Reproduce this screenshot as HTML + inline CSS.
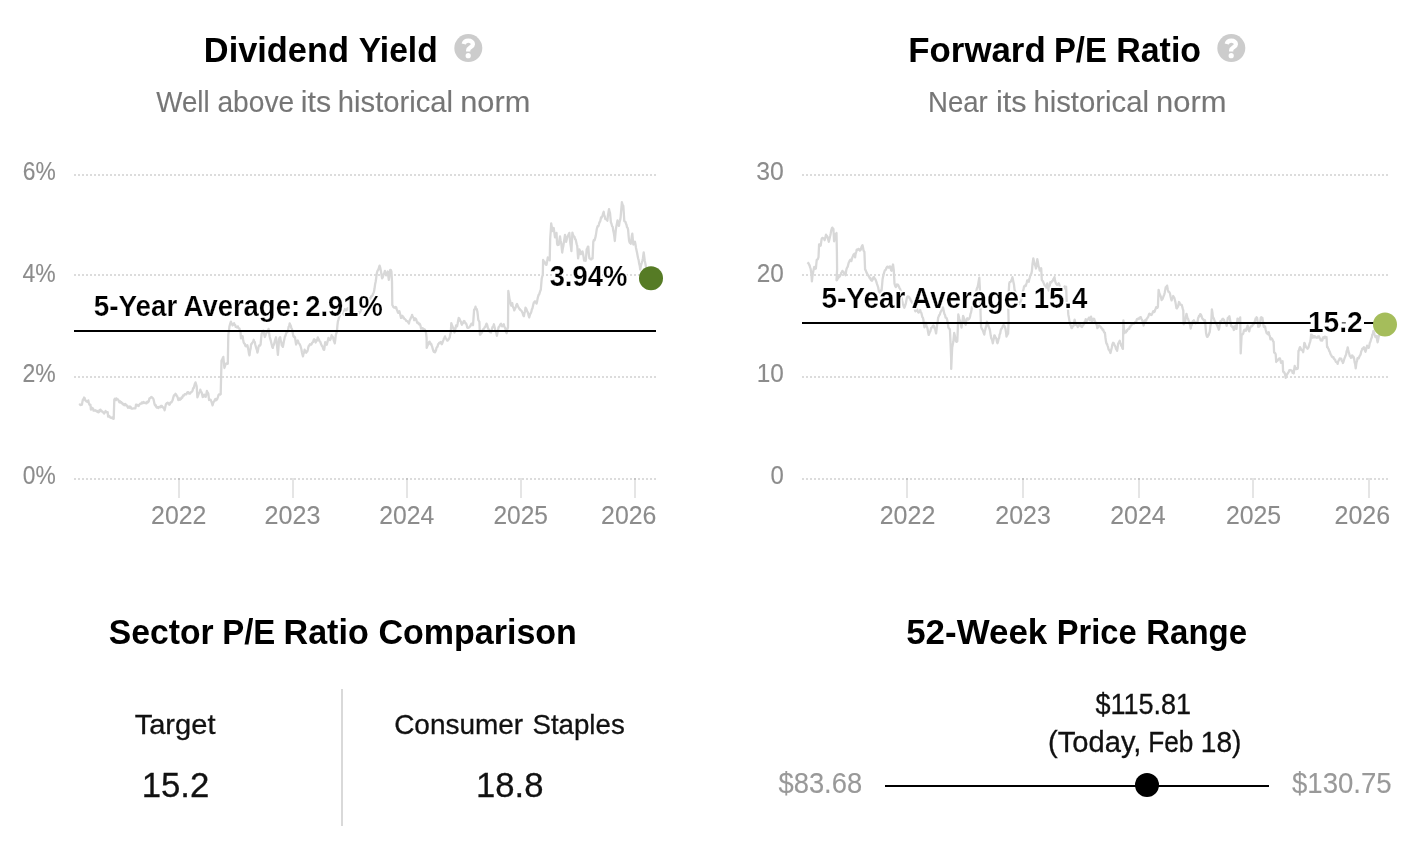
<!DOCTYPE html>
<html>
<head>
<meta charset="utf-8">
<title>Valuation</title>
<style>
html, body { margin: 0; padding: 0; background: #ffffff; }
body { width: 1416px; height: 852px; overflow: hidden; font-family: "Liberation Sans", sans-serif; }
svg { display: block; will-change: transform; }
svg text { font-family: "Liberation Sans", sans-serif; }
</style>
</head>
<body>
<svg width="1416" height="852" viewBox="0 0 1416 852">
<rect width="1416" height="852" fill="#ffffff"/>
<g id="shapes">
<line x1="74" x2="657" y1="175" y2="175" stroke="#dcdcdc" stroke-width="2" stroke-dasharray="2 2"/><line x1="74" x2="657" y1="275" y2="275" stroke="#dcdcdc" stroke-width="2" stroke-dasharray="2 2"/><line x1="74" x2="657" y1="377" y2="377" stroke="#dcdcdc" stroke-width="2" stroke-dasharray="2 2"/><line x1="74" x2="657" y1="479" y2="479" stroke="#dcdcdc" stroke-width="2" stroke-dasharray="2 2"/>
<rect x="178" y="478" width="2" height="20" fill="#000" fill-opacity="0.1"/><rect x="292" y="478" width="2" height="20" fill="#000" fill-opacity="0.1"/><rect x="406" y="478" width="2" height="20" fill="#000" fill-opacity="0.1"/><rect x="520" y="478" width="2" height="20" fill="#000" fill-opacity="0.1"/><rect x="634" y="478" width="2" height="20" fill="#000" fill-opacity="0.1"/>
<path d="M79.3 405.1 L79.8 404.5 L80.3 405.0 L80.9 404.6 L81.4 404.9 L81.9 404.7 L82.5 401.4 L83.0 399.4 L83.5 399.4 L84.1 397.5 L84.6 398.1 L85.2 400.3 L85.7 400.3 L86.2 401.3 L86.8 401.1 L87.3 401.8 L87.8 401.6 L88.3 400.4 L88.8 403.1 L89.4 404.6 L89.9 405.0 L90.4 404.7 L90.9 409.6 L91.5 409.3 L92.0 407.8 L92.5 408.2 L93.1 408.7 L93.6 410.7 L94.1 410.2 L94.7 410.5 L95.2 410.2 L95.7 410.6 L96.3 411.3 L96.8 410.8 L97.3 411.8 L97.9 411.5 L98.4 412.3 L98.9 412.2 L99.5 410.2 L100.0 409.8 L100.5 409.7 L101.0 411.2 L101.6 410.8 L102.1 411.5 L102.6 411.6 L103.2 412.5 L103.7 412.8 L104.2 413.5 L104.9 412.4 L105.6 411.0 L106.1 411.9 L106.7 411.8 L107.2 412.5 L107.7 412.3 L108.1 416.6 L108.7 416.7 L109.3 415.9 L109.9 417.4 L110.5 417.2 L111.0 417.9 L111.6 417.6 L112.1 418.1 L112.6 417.5 L113.2 418.9 L113.7 418.7 L114.3 399.6 L114.8 398.8 L115.3 400.1 L115.9 400.1 L116.4 398.3 L116.9 399.1 L117.4 399.4 L118.0 399.5 L118.5 400.4 L119.0 401.6 L119.5 402.4 L120.1 401.2 L120.6 402.6 L121.2 401.9 L121.7 403.2 L122.2 402.9 L122.8 404.2 L123.3 404.6 L123.8 404.0 L124.3 405.2 L124.8 404.2 L125.4 404.0 L125.9 405.2 L126.4 405.0 L126.9 405.6 L127.5 406.7 L128.0 407.8 L128.5 406.9 L129.1 406.5 L129.6 407.8 L130.2 406.6 L130.7 407.0 L131.2 408.5 L131.7 408.7 L132.2 408.6 L132.8 408.5 L133.3 408.4 L133.8 408.4 L134.4 408.3 L134.9 408.4 L135.4 408.4 L136.0 404.6 L136.5 404.7 L137.1 405.5 L137.6 404.9 L138.1 405.5 L138.6 406.1 L139.1 404.8 L139.7 404.5 L140.2 403.6 L140.7 403.6 L141.2 403.7 L141.8 402.5 L142.3 403.3 L142.8 403.2 L143.4 402.0 L143.9 402.8 L144.4 402.4 L144.9 403.0 L145.5 402.7 L146.0 403.4 L146.6 403.4 L147.1 401.8 L147.6 401.6 L148.2 402.2 L148.8 401.2 L149.4 398.5 L150.0 398.1 L150.7 397.8 L151.3 397.0 L151.8 397.3 L152.4 397.7 L152.9 398.2 L153.4 399.0 L153.9 401.1 L154.5 403.9 L155.0 405.4 L155.6 404.9 L156.1 406.7 L156.6 407.5 L157.2 407.0 L157.7 407.5 L158.2 408.1 L158.8 407.0 L159.3 406.8 L159.8 407.2 L160.3 407.3 L160.9 405.9 L161.4 406.1 L161.9 406.0 L162.4 407.2 L163.0 407.1 L163.5 408.0 L164.1 408.5 L164.6 410.3 L165.2 407.5 L165.9 404.3 L166.5 403.6 L167.2 402.8 L167.8 402.7 L168.3 403.6 L168.8 403.5 L169.3 404.8 L169.8 404.5 L170.4 402.6 L170.9 402.2 L171.4 402.3 L172.0 401.3 L172.5 400.5 L173.2 397.9 L173.8 395.8 L174.4 395.0 L174.9 395.2 L175.5 393.8 L176.1 394.6 L176.7 395.6 L177.3 396.5 L177.8 398.0 L178.3 400.1 L178.9 398.9 L179.4 398.4 L179.9 399.8 L180.5 399.0 L181.0 399.1 L181.6 397.5 L182.1 397.9 L182.6 396.9 L183.1 395.4 L183.6 395.7 L184.2 395.3 L184.7 394.1 L185.2 394.2 L185.8 394.0 L186.3 394.4 L186.8 393.3 L187.4 392.3 L187.9 392.5 L188.4 392.3 L189.0 393.6 L189.5 393.1 L190.0 393.6 L190.6 392.7 L191.1 392.1 L191.6 392.0 L192.1 391.5 L192.6 390.4 L193.1 388.2 L193.7 388.2 L194.2 386.3 L194.8 384.0 L195.5 382.4 L196.1 384.4 L196.7 386.4 L197.4 397.4 L197.9 396.1 L198.5 394.3 L199.0 393.2 L199.7 392.2 L200.3 389.7 L200.9 391.6 L201.6 392.3 L202.1 394.2 L202.7 397.1 L203.2 396.8 L203.8 394.8 L204.3 394.7 L205.0 396.3 L205.7 396.8 L206.3 394.5 L206.9 390.9 L207.6 392.6 L208.3 393.7 L209.1 400.0 L209.6 399.7 L210.2 399.6 L210.7 399.8 L211.3 401.4 L212.0 403.3 L212.6 405.3 L213.2 403.0 L213.8 401.8 L214.4 401.1 L214.9 399.7 L215.4 399.0 L216.0 400.2 L216.6 399.9 L217.2 399.0 L217.9 397.2 L218.6 394.9 L219.1 394.4 L219.6 394.2 L220.2 394.5 L220.7 394.1 L221.5 360.5 L221.9 360.2 L222.6 358.5 L223.3 356.9 L223.9 362.6 L224.4 368.0 L225.0 366.2 L225.6 364.2 L226.2 363.4 L226.7 363.4 L227.3 363.8 L227.8 363.8 L228.3 334.9 L228.9 331.3 L229.4 326.6 L229.9 324.8 L230.4 323.1 L230.9 321.7 L231.4 323.3 L232.0 324.0 L232.5 325.5 L233.0 324.6 L233.6 323.5 L234.1 323.3 L234.6 324.9 L235.2 325.0 L235.7 326.9 L236.2 326.7 L236.8 327.4 L237.3 327.4 L237.8 326.4 L238.3 327.9 L238.9 328.4 L239.4 328.4 L239.9 330.1 L240.5 331.5 L241.0 338.3 L241.5 337.7 L242.1 337.4 L242.6 336.2 L243.1 339.5 L243.7 342.6 L244.2 343.6 L244.8 343.8 L245.3 345.7 L245.8 346.2 L246.3 345.6 L246.9 346.4 L247.4 345.3 L247.9 347.4 L248.4 349.9 L249.0 353.8 L249.5 355.4 L250.0 351.0 L250.6 348.8 L251.1 344.2 L251.6 344.2 L252.1 342.9 L252.7 342.2 L253.2 341.5 L253.7 339.8 L254.2 341.8 L254.8 342.1 L255.3 344.7 L255.8 346.5 L256.4 348.8 L256.9 349.7 L257.4 352.6 L257.9 350.9 L258.5 347.1 L259.0 345.5 L259.5 345.3 L260.1 345.5 L260.6 344.3 L261.1 338.6 L261.7 333.7 L262.2 333.0 L262.8 332.2 L263.3 330.6 L263.8 332.6 L264.3 334.8 L264.8 337.0 L265.4 335.6 L265.9 333.7 L266.4 333.1 L267.0 332.1 L267.5 330.7 L268.1 330.4 L268.6 328.9 L269.1 332.9 L269.6 336.2 L270.1 338.4 L270.7 340.3 L271.2 342.4 L271.7 344.6 L272.3 347.0 L272.8 347.9 L273.3 345.5 L273.9 344.8 L274.4 342.7 L274.9 340.7 L275.5 338.8 L276.0 337.3 L276.5 340.8 L277.0 345.4 L277.9 354.9 L278.5 347.3 L279.1 339.1 L279.6 337.7 L280.2 337.2 L280.7 340.7 L281.3 342.4 L281.8 345.7 L282.4 345.9 L282.9 346.9 L283.4 344.3 L283.9 341.2 L284.4 339.0 L284.9 336.6 L285.5 335.6 L286.0 333.8 L286.5 332.6 L287.1 332.2 L287.6 331.7 L288.1 330.2 L288.6 326.9 L289.2 326.3 L289.7 323.3 L290.2 324.8 L290.8 325.9 L291.3 327.9 L291.9 328.8 L292.4 331.2 L292.9 333.5 L293.4 336.2 L293.9 337.0 L294.5 336.6 L295.0 337.3 L295.6 341.6 L296.1 344.5 L296.6 342.6 L297.2 341.2 L297.7 340.5 L298.2 341.6 L298.8 343.2 L299.3 343.7 L299.8 344.4 L300.4 345.7 L300.9 347.5 L301.4 349.2 L301.9 352.3 L302.5 354.6 L303.0 356.4 L303.5 353.6 L304.1 352.6 L304.6 349.7 L305.1 350.7 L305.7 352.3 L306.2 352.7 L306.7 351.2 L307.3 351.5 L307.8 349.7 L308.3 347.4 L308.8 345.7 L309.3 345.7 L309.9 344.3 L310.4 344.6 L311.0 344.6 L311.5 344.5 L312.0 342.9 L312.5 342.5 L313.1 342.1 L313.6 340.1 L314.1 339.2 L314.6 339.6 L315.2 340.9 L315.7 342.5 L316.2 340.5 L316.8 340.7 L317.3 339.5 L317.8 337.3 L318.3 339.3 L318.9 339.2 L319.4 340.9 L319.9 341.5 L320.4 342.1 L321.0 344.0 L321.6 345.2 L322.1 346.3 L322.6 346.6 L323.1 348.4 L323.7 349.7 L324.2 349.9 L324.7 346.2 L325.2 342.1 L325.7 343.1 L326.3 343.5 L326.8 344.7 L327.3 342.7 L327.9 340.4 L328.4 337.9 L328.9 339.1 L329.5 339.8 L330.0 340.1 L330.5 339.4 L331.1 337.4 L331.6 335.2 L332.1 337.1 L332.7 336.6 L333.2 338.0 L333.7 340.3 L334.3 341.8 L334.8 343.4 L335.3 339.5 L335.8 335.0 L336.4 333.1 L336.9 331.6 L337.4 325.7 L337.9 321.4 L338.4 319.9 L339.0 317.7 L339.5 316.1 L340.1 314.3 L340.6 312.7 L341.1 311.6 L341.7 310.7 L342.2 310.6 L342.8 312.5 L343.3 313.1 L343.8 314.8 L344.3 311.7 L344.8 309.2 L345.4 310.2 L345.9 311.4 L346.4 310.9 L347.0 309.1 L347.5 308.5 L348.0 308.1 L348.6 308.9 L349.1 309.2 L349.6 310.1 L350.1 311.3 L350.7 311.5 L351.2 310.9 L351.7 311.2 L352.3 312.0 L352.8 312.7 L353.3 313.2 L353.9 313.3 L354.4 313.1 L354.9 312.5 L355.4 313.1 L356.0 312.9 L356.5 313.6 L357.0 313.7 L357.6 313.1 L358.1 313.2 L358.6 313.8 L359.1 312.0 L359.6 312.5 L360.2 311.9 L360.7 310.7 L361.2 309.4 L361.8 308.9 L362.3 308.1 L362.8 307.3 L363.4 307.5 L363.9 306.5 L364.4 305.3 L365.0 305.4 L365.5 304.4 L366.1 304.0 L366.6 303.5 L367.1 301.6 L367.6 302.3 L368.1 301.4 L368.7 300.4 L369.2 299.8 L369.7 299.0 L370.3 297.8 L370.8 297.8 L371.3 296.2 L371.9 296.3 L372.4 295.7 L372.9 294.1 L373.5 292.9 L374.0 291.6 L374.5 288.8 L375.1 284.3 L375.6 282.0 L376.1 278.8 L376.6 274.6 L377.1 272.1 L377.6 270.7 L378.2 269.8 L378.9 267.8 L379.6 265.7 L380.2 267.4 L380.8 270.4 L381.5 274.7 L382.1 278.3 L382.8 277.1 L383.5 274.5 L384.2 273.3 L384.9 270.9 L385.5 273.5 L386.1 275.3 L386.6 274.6 L387.2 273.4 L387.7 271.5 L388.2 275.3 L388.8 279.9 L389.5 274.9 L390.2 269.8 L390.8 270.1 L391.4 271.4 L392.0 281.6 L392.3 304.9 L392.9 306.0 L393.5 307.2 L394.1 307.7 L394.6 307.4 L395.1 307.7 L395.7 307.0 L396.2 307.2 L396.7 309.4 L397.3 310.6 L397.8 312.3 L398.3 312.9 L398.9 312.2 L399.4 311.3 L399.9 313.3 L400.5 315.7 L401.0 317.9 L401.5 316.8 L402.1 315.8 L402.6 316.0 L403.1 317.6 L403.7 317.4 L404.2 318.9 L404.7 318.9 L405.2 319.4 L405.8 319.9 L406.3 320.9 L406.8 320.9 L407.3 321.2 L407.9 321.9 L408.4 322.5 L408.9 323.6 L409.4 321.2 L410.0 319.6 L410.5 318.9 L411.0 317.5 L411.6 316.7 L412.1 314.8 L412.6 316.1 L413.1 317.3 L413.7 317.8 L414.2 320.2 L414.7 319.1 L415.3 318.5 L415.8 318.9 L416.3 319.7 L416.9 321.9 L417.4 323.0 L417.9 322.6 L418.4 322.7 L419.0 324.2 L419.5 323.6 L420.0 324.4 L420.6 326.2 L421.1 328.7 L421.6 328.1 L422.2 328.1 L422.7 328.3 L423.3 329.4 L423.8 329.0 L424.3 329.3 L424.9 329.5 L425.4 331.3 L425.9 331.9 L426.6 338.0 L426.7 347.9 L427.4 345.9 L428.0 344.8 L428.5 343.4 L429.1 342.1 L429.6 341.6 L430.1 343.0 L430.6 344.2 L431.2 343.8 L431.7 345.4 L432.2 346.8 L432.8 349.2 L433.3 350.7 L433.8 351.9 L434.4 351.0 L434.9 352.4 L435.4 351.4 L435.9 350.7 L436.5 347.8 L437.0 347.1 L437.5 346.8 L438.1 344.4 L438.6 343.9 L439.1 342.9 L439.6 342.8 L440.2 342.2 L440.7 342.0 L441.3 343.7 L441.8 344.2 L442.3 343.2 L442.9 341.3 L443.4 340.1 L443.9 338.5 L444.5 337.5 L445.0 336.4 L445.5 338.2 L446.1 338.7 L446.6 339.3 L447.1 340.6 L447.6 340.6 L448.1 339.8 L448.7 339.3 L449.2 338.1 L449.7 337.7 L450.2 334.4 L450.8 332.6 L451.3 323.1 L451.8 324.6 L452.4 326.3 L452.9 327.2 L453.4 328.1 L454.0 330.2 L454.5 332.6 L455.0 330.2 L455.6 328.1 L456.1 325.3 L456.6 325.4 L457.1 326.3 L457.6 323.8 L458.2 320.4 L458.7 318.0 L459.2 318.2 L459.8 319.7 L460.3 321.0 L460.8 321.4 L461.4 323.7 L461.9 324.7 L462.4 323.3 L462.9 323.4 L463.5 321.7 L464.0 320.9 L464.5 321.2 L465.1 322.8 L465.6 323.4 L466.1 323.5 L466.6 324.8 L467.2 327.5 L467.7 327.9 L468.2 327.9 L468.8 327.3 L469.3 327.3 L469.8 326.5 L470.4 326.0 L470.9 324.8 L471.4 323.7 L471.9 323.7 L472.5 323.9 L473.0 325.2 L473.6 316.9 L474.1 309.8 L474.8 309.3 L475.5 306.7 L476.1 309.0 L476.7 309.0 L477.3 311.2 L477.8 315.0 L478.3 319.9 L478.9 321.0 L479.4 321.9 L479.9 334.7 L480.4 334.6 L480.9 333.2 L481.5 333.1 L482.0 332.4 L482.6 330.1 L483.1 329.4 L483.6 328.8 L484.1 328.7 L484.7 327.1 L485.2 327.1 L485.9 325.2 L486.5 323.6 L487.2 325.0 L487.9 328.0 L488.4 329.1 L488.9 329.5 L489.4 331.3 L489.9 332.1 L490.5 331.9 L491.0 332.5 L491.5 330.8 L492.1 328.4 L492.6 327.0 L493.2 326.6 L493.9 324.3 L494.6 327.2 L495.3 330.0 L495.8 331.6 L496.4 333.2 L496.9 335.9 L497.4 333.2 L498.0 330.6 L498.5 327.5 L499.0 326.6 L499.5 326.5 L500.0 325.0 L500.6 324.1 L501.1 323.7 L501.6 325.4 L502.2 326.3 L502.7 325.4 L503.3 325.4 L503.8 324.3 L504.3 326.5 L504.8 327.6 L505.3 328.0 L506.0 331.5 L506.6 333.2 L507.3 329.5 L508.0 327.3 L508.3 291.0 L509.0 295.3 L509.6 299.6 L510.1 300.8 L510.7 304.2 L511.2 305.7 L511.7 304.4 L512.2 303.1 L512.7 305.5 L513.2 307.4 L513.8 308.4 L514.3 310.4 L514.8 309.1 L515.4 308.0 L515.9 306.6 L516.5 304.7 L517.0 304.0 L517.5 305.2 L518.1 306.7 L518.6 307.2 L519.1 308.6 L519.7 308.8 L520.2 309.9 L520.7 310.1 L521.3 310.8 L521.8 311.2 L522.3 312.6 L522.8 313.6 L523.4 315.8 L523.9 316.3 L524.4 313.4 L525.0 311.2 L525.5 307.7 L526.0 308.4 L526.6 309.5 L527.1 311.4 L527.6 311.9 L528.2 313.7 L528.7 316.0 L529.2 317.5 L529.7 315.5 L530.3 313.9 L530.8 313.1 L531.3 311.9 L531.8 309.4 L532.4 308.5 L532.9 306.2 L533.4 304.1 L533.9 302.3 L534.5 301.8 L535.0 301.3 L535.5 302.3 L536.1 302.8 L536.6 303.5 L537.1 301.4 L537.7 298.1 L538.2 296.3 L538.7 294.7 L539.2 294.4 L539.8 292.4 L540.3 290.8 L540.8 289.7 L541.7 278.6 L542.2 276.8 L542.8 274.5 L543.1 259.9 L543.7 261.2 L544.3 261.3 L544.9 262.5 L545.4 264.0 L546.0 264.7 L546.5 264.9 L547.1 261.8 L547.8 257.5 L548.4 258.2 L549.1 259.0 L549.7 260.4 L550.2 238.5 L550.7 231.5 L551.2 223.4 L551.8 227.0 L552.3 231.1 L553.0 230.2 L553.7 228.0 L554.4 232.8 L555.0 237.3 L555.5 236.0 L556.0 233.9 L556.5 232.9 L557.1 243.8 L557.6 245.0 L558.2 244.5 L558.7 244.7 L559.4 240.3 L560.0 236.3 L560.6 240.5 L561.3 243.7 L562.2 252.5 L562.8 248.4 L563.4 245.7 L563.9 242.1 L564.5 238.2 L565.0 235.0 L565.5 238.7 L566.1 241.9 L566.6 240.0 L567.2 237.2 L567.7 236.4 L568.2 235.3 L568.8 234.1 L569.3 232.9 L569.8 238.3 L570.3 243.0 L570.8 246.2 L571.4 251.2 L571.9 241.6 L572.4 232.6 L572.9 234.5 L573.5 235.9 L574.0 236.4 L574.5 236.8 L575.1 239.2 L575.6 239.3 L576.1 241.4 L576.7 244.3 L577.2 245.7 L578.1 258.4 L578.7 254.6 L579.3 249.3 L579.8 250.4 L580.4 252.3 L580.9 254.1 L581.4 252.6 L582.0 251.7 L582.5 251.4 L583.0 253.5 L583.6 257.0 L584.1 260.5 L584.6 259.9 L585.2 260.7 L585.7 260.9 L586.2 255.5 L586.7 249.1 L587.2 248.9 L587.8 246.7 L588.3 246.7 L588.8 253.6 L589.4 258.3 L589.9 258.5 L590.5 259.2 L591.0 259.4 L591.5 259.3 L592.1 258.1 L592.6 258.4 L593.3 241.9 L593.9 239.9 L594.6 240.2 L595.2 238.2 L595.7 236.1 L596.3 232.4 L596.8 229.0 L597.3 227.2 L597.8 226.0 L598.4 226.2 L598.9 224.5 L599.4 222.4 L600.0 221.8 L600.5 220.2 L601.0 217.5 L601.5 217.9 L602.1 216.5 L602.6 215.6 L603.2 213.1 L603.7 211.8 L604.2 215.3 L604.8 216.5 L605.3 219.1 L605.8 219.0 L606.3 219.2 L606.9 219.9 L607.4 220.7 L607.9 215.8 L608.5 212.1 L609.0 209.1 L609.5 211.5 L610.0 212.8 L610.9 222.3 L611.5 223.7 L612.1 226.2 L612.7 226.8 L613.2 230.3 L613.8 233.0 L614.3 236.2 L614.8 241.0 L615.3 235.4 L615.9 229.1 L616.4 226.2 L617.0 223.2 L617.5 220.4 L618.0 222.1 L618.5 224.0 L619.0 225.9 L619.5 222.3 L620.1 220.2 L620.6 217.5 L621.2 210.4 L621.9 202.2 L622.6 204.8 L623.3 205.8 L623.8 213.0 L624.3 221.3 L624.8 221.5 L625.4 221.8 L625.9 223.4 L626.5 224.7 L627.0 227.2 L627.5 227.6 L628.1 229.7 L628.6 236.0 L629.1 240.8 L629.6 242.5 L630.2 243.0 L630.7 243.7 L631.2 240.8 L631.8 236.3 L632.3 233.7 L632.8 239.1 L633.3 244.5 L633.8 243.9 L634.4 242.3 L634.9 241.6 L635.5 244.6 L636.0 247.9 L636.5 250.2 L637.1 253.1 L637.6 255.7 L638.1 258.3 L638.6 259.9 L639.1 263.4 L639.7 265.6 L640.2 269.5 L640.7 266.7 L641.3 264.3 L641.8 262.8 L642.3 261.1 L642.9 258.5 L643.7 252.3 L644.2 256.1 L644.8 261.0 L645.5 264.3 L646.1 268.1 L646.6 269.2 L647.2 271.0 L647.7 272.2 L648.3 272.5 L648.8 273.4 L649.4 274.8 L649.9 274.9 L650.5 276.7 L651.0 277.9" fill="none" stroke="#d8d8d8" stroke-width="2.3" stroke-linejoin="round"/>
<rect x="74" y="330" width="582" height="2" fill="#000"/>
<line x1="802" x2="1389" y1="175" y2="175" stroke="#dcdcdc" stroke-width="2" stroke-dasharray="2 2"/><line x1="802" x2="1389" y1="275" y2="275" stroke="#dcdcdc" stroke-width="2" stroke-dasharray="2 2"/><line x1="802" x2="1389" y1="377" y2="377" stroke="#dcdcdc" stroke-width="2" stroke-dasharray="2 2"/><line x1="802" x2="1389" y1="479" y2="479" stroke="#dcdcdc" stroke-width="2" stroke-dasharray="2 2"/>
<rect x="906" y="478" width="2" height="20" fill="#000" fill-opacity="0.1"/><rect x="1022" y="478" width="2" height="20" fill="#000" fill-opacity="0.1"/><rect x="1138" y="478" width="2" height="20" fill="#000" fill-opacity="0.1"/><rect x="1252" y="478" width="2" height="20" fill="#000" fill-opacity="0.1"/><rect x="1368" y="478" width="2" height="20" fill="#000" fill-opacity="0.1"/>
<path d="M807.4 262.4 L807.9 262.8 L808.5 263.2 L809.0 264.6 L809.5 265.1 L810.1 267.4 L810.6 268.6 L811.4 273.7 L811.9 281.4 L812.5 275.8 L813.2 271.9 L813.8 268.7 L814.3 266.8 L814.8 267.5 L815.4 268.8 L815.9 268.4 L816.7 260.1 L817.3 259.5 L817.9 259.0 L818.5 257.2 L819.1 244.3 L819.6 245.6 L820.2 244.3 L820.7 245.7 L821.2 241.9 L821.7 238.8 L822.2 238.0 L822.8 238.0 L823.3 238.2 L824.0 238.5 L824.6 240.2 L825.3 237.7 L826.0 234.7 L826.5 235.8 L827.0 235.8 L827.5 237.2 L828.1 239.1 L828.8 241.8 L829.5 238.7 L830.2 235.8 L830.7 233.4 L831.2 230.6 L831.8 228.6 L832.3 227.6 L832.8 228.6 L833.4 228.8 L834.1 241.3 L834.8 237.5 L835.5 234.1 L836.0 233.9 L836.5 233.0 L836.9 252.1 L837.1 269.5 L836.5 280.3 L837.0 280.2 L837.6 278.4 L838.1 278.3 L838.6 276.7 L839.2 277.0 L839.8 276.4 L840.3 275.2 L840.8 274.7 L841.3 272.6 L841.9 272.2 L842.4 270.9 L842.9 271.5 L843.5 271.8 L844.0 273.1 L844.5 273.3 L845.0 274.0 L845.6 275.2 L846.1 271.1 L846.6 268.8 L847.1 267.6 L847.7 266.8 L848.2 264.7 L848.7 262.7 L849.3 261.5 L849.8 260.4 L850.3 259.8 L850.9 260.9 L851.4 261.1 L851.9 258.8 L852.5 257.0 L853.0 256.2 L853.5 254.6 L854.1 254.1 L854.6 253.8 L855.1 257.4 L855.6 253.9 L856.2 252.1 L856.7 249.7 L857.2 250.0 L857.8 249.5 L858.3 248.9 L858.8 248.9 L859.4 249.8 L859.9 250.6 L860.4 250.3 L860.9 249.4 L861.4 247.2 L862.0 245.9 L862.5 245.2 L863.0 247.6 L863.6 250.7 L864.4 251.9 L865.1 269.6 L865.6 270.0 L866.2 271.8 L866.7 272.9 L867.2 273.8 L867.8 275.2 L868.3 275.2 L868.8 276.2 L869.4 277.4 L869.9 278.4 L870.4 278.0 L871.0 280.1 L871.5 280.4 L872.0 280.7 L872.5 279.9 L873.1 278.1 L873.6 277.1 L874.1 277.2 L874.7 278.8 L875.2 279.0 L875.7 280.0 L876.3 281.6 L876.8 283.4 L877.5 285.4 L878.2 287.5 L878.9 291.6 L879.5 291.9 L880.0 292.8 L880.5 291.8 L881.1 290.1 L881.6 290.2 L882.1 284.8 L882.6 279.0 L883.2 276.2 L883.7 273.9 L884.2 272.4 L884.8 270.5 L885.3 270.1 L885.8 269.8 L886.4 267.9 L886.9 267.1 L887.4 266.6 L888.0 266.8 L888.5 267.6 L889.0 266.9 L889.5 267.6 L890.0 266.4 L890.5 267.1 L891.1 270.2 L891.6 270.8 L892.3 267.0 L893.0 264.5 L893.8 270.5 L894.5 283.6 L895.2 286.0 L895.9 287.0 L896.4 286.0 L896.9 284.4 L897.4 284.7 L898.0 284.7 L898.5 285.9 L899.0 286.8 L899.6 288.3 L900.1 288.8 L900.7 291.1 L901.2 294.4 L901.7 298.2 L902.2 300.8 L902.8 303.2 L903.3 304.9 L903.8 306.7 L904.3 307.7 L904.8 306.5 L905.4 304.8 L905.9 303.4 L906.5 299.7 L907.0 297.1 L907.5 296.5 L908.1 297.0 L908.6 296.6 L909.1 296.9 L909.7 298.5 L910.2 298.8 L910.7 300.6 L911.3 301.0 L911.8 302.4 L912.3 302.7 L912.8 303.3 L913.3 303.9 L913.8 305.1 L914.3 307.8 L914.9 309.8 L915.4 311.3 L915.9 310.9 L916.5 310.4 L917.0 308.9 L917.5 310.6 L918.1 312.1 L918.6 312.6 L919.1 312.2 L919.7 311.0 L920.2 310.1 L920.7 312.2 L921.3 312.8 L921.8 314.7 L922.3 317.1 L922.9 317.8 L923.4 319.7 L923.9 324.3 L924.4 327.4 L924.9 325.2 L925.5 323.7 L926.0 322.7 L926.5 325.8 L927.1 327.4 L927.6 329.0 L928.2 332.7 L928.7 334.9 L929.2 333.8 L929.8 332.2 L930.3 331.4 L930.8 329.3 L931.3 327.7 L931.8 327.5 L932.3 326.8 L932.9 325.8 L933.4 325.4 L933.9 326.2 L934.5 328.2 L935.0 329.0 L935.5 330.7 L936.1 333.4 L936.6 329.0 L937.1 324.9 L937.7 321.6 L938.2 317.5 L938.7 316.5 L939.3 314.9 L939.8 314.8 L940.3 312.8 L940.9 311.6 L941.4 310.4 L941.9 310.0 L942.5 308.0 L943.0 307.4 L943.5 309.8 L944.0 312.4 L944.5 314.2 L945.1 315.1 L945.6 317.7 L946.1 317.8 L946.7 318.2 L947.2 320.0 L947.8 322.9 L948.3 327.2 L948.8 328.3 L949.4 328.7 L949.9 329.2 L950.6 344.2 L951.2 360.0 L951.2 368.9 L951.7 357.4 L952.2 347.5 L952.8 344.4 L953.3 342.0 L954.2 332.9 L954.8 335.5 L955.4 338.5 L956.0 341.4 L956.6 341.9 L957.3 341.2 L957.8 329.4 L958.3 314.5 L958.8 316.6 L959.4 319.0 L959.9 320.8 L960.4 323.0 L961.0 325.0 L961.5 327.5 L962.0 323.7 L962.6 320.1 L963.1 315.9 L963.7 317.3 L964.2 319.8 L964.7 322.4 L965.2 323.9 L965.7 324.8 L966.2 321.2 L966.8 318.7 L967.3 318.3 L967.9 319.0 L968.4 319.5 L968.9 319.0 L969.5 318.2 L970.0 316.9 L970.5 313.9 L971.0 312.6 L971.5 310.0 L972.1 306.8 L972.6 306.7 L973.2 305.8 L973.7 303.7 L974.2 301.0 L974.7 296.4 L975.2 294.7 L975.8 293.8 L976.3 291.4 L976.8 288.8 L977.4 287.5 L977.9 285.9 L978.6 281.6 L979.3 277.7 L980.0 291.1 L980.6 314.7 L981.1 326.9 L981.6 328.4 L982.2 329.2 L982.7 330.1 L983.2 331.5 L983.8 333.4 L984.3 334.6 L984.8 331.2 L985.3 329.6 L985.8 327.4 L986.4 325.2 L986.9 321.6 L987.4 322.9 L988.0 323.9 L988.5 326.3 L989.0 327.5 L989.6 329.0 L990.1 331.3 L990.7 335.3 L991.2 338.0 L991.7 339.1 L992.3 340.7 L992.8 343.4 L993.3 340.8 L993.8 338.5 L994.3 335.4 L994.8 335.6 L995.4 337.4 L995.9 337.7 L996.4 338.8 L997.0 342.1 L997.5 343.2 L998.0 341.9 L998.6 338.8 L999.1 338.1 L999.6 334.6 L1000.2 333.5 L1000.7 330.4 L1001.2 329.0 L1001.8 328.4 L1002.3 327.5 L1002.8 326.1 L1003.4 325.1 L1003.9 325.1 L1004.4 326.0 L1005.0 327.2 L1005.5 329.1 L1006.0 332.2 L1006.5 336.5 L1007.0 335.3 L1007.6 334.3 L1008.1 333.8 L1008.6 320.6 L1008.1 301.8 L1008.7 292.2 L1009.2 283.7 L1009.7 282.2 L1010.3 282.0 L1010.8 281.4 L1011.3 280.7 L1011.9 278.9 L1012.4 277.2 L1012.9 279.5 L1013.4 282.0 L1014.0 284.7 L1014.5 289.3 L1015.0 291.1 L1015.6 293.3 L1016.1 295.6 L1016.6 297.0 L1017.1 298.9 L1017.6 300.8 L1018.1 302.4 L1018.7 302.0 L1019.2 303.7 L1019.8 304.0 L1020.3 302.7 L1020.9 300.9 L1021.4 299.6 L1021.9 296.1 L1022.4 293.4 L1022.9 290.9 L1023.5 289.5 L1024.0 286.7 L1024.5 286.0 L1025.1 285.5 L1025.6 286.1 L1026.1 284.8 L1026.7 282.7 L1027.2 280.4 L1027.7 280.5 L1028.3 281.0 L1028.8 281.7 L1029.3 279.0 L1029.9 277.3 L1030.4 275.1 L1030.9 274.7 L1031.4 273.4 L1031.9 271.1 L1032.5 264.2 L1033.3 258.3 L1033.9 260.9 L1034.6 264.3 L1035.3 265.6 L1036.0 268.5 L1036.7 263.8 L1037.3 259.1 L1037.9 262.3 L1038.6 266.5 L1039.2 267.7 L1039.7 270.5 L1040.2 269.3 L1040.7 269.1 L1041.2 268.3 L1041.8 280.0 L1042.3 280.6 L1042.9 281.2 L1043.4 282.5 L1043.9 283.5 L1044.5 285.0 L1045.0 285.7 L1045.5 286.7 L1046.0 287.7 L1046.5 287.6 L1047.3 283.3 L1048.0 288.0 L1048.7 290.5 L1049.2 288.4 L1049.8 285.5 L1050.3 282.1 L1050.8 282.6 L1051.3 282.4 L1051.8 281.4 L1052.3 281.0 L1052.9 280.5 L1053.4 278.9 L1054.0 278.2 L1054.5 277.1 L1055.0 280.4 L1055.6 282.6 L1056.1 283.7 L1056.6 284.0 L1057.1 284.8 L1057.6 284.5 L1058.2 284.1 L1058.7 283.2 L1059.2 284.2 L1059.8 286.3 L1060.3 287.4 L1060.8 288.0 L1061.4 290.4 L1061.9 290.8 L1062.4 290.3 L1063.0 289.6 L1063.5 288.8 L1064.0 288.0 L1064.6 286.4 L1065.1 286.8 L1065.6 287.0 L1066.1 286.6 L1066.7 301.4 L1067.2 303.8 L1067.7 305.4 L1068.3 314.4 L1068.8 316.9 L1069.3 320.2 L1069.8 322.2 L1070.4 324.9 L1070.9 325.8 L1071.4 328.1 L1072.0 328.2 L1072.5 326.8 L1073.0 326.1 L1073.6 325.8 L1074.1 322.9 L1074.6 319.6 L1075.2 322.3 L1075.7 324.8 L1076.2 324.5 L1076.8 325.2 L1077.3 325.9 L1077.8 327.1 L1078.3 326.0 L1078.8 325.9 L1079.4 324.4 L1079.9 324.4 L1080.4 324.8 L1081.0 326.1 L1081.5 326.7 L1082.0 327.0 L1082.5 325.7 L1083.1 325.3 L1083.7 324.4 L1084.2 323.7 L1084.7 321.6 L1085.2 321.5 L1085.7 319.2 L1086.2 320.6 L1086.8 320.9 L1087.3 320.2 L1087.8 319.4 L1088.4 318.9 L1088.9 317.6 L1089.5 318.8 L1090.0 320.3 L1090.5 317.9 L1091.0 316.6 L1091.5 318.4 L1092.1 321.7 L1092.6 319.9 L1093.2 319.5 L1093.7 318.7 L1094.2 318.8 L1094.7 320.7 L1095.2 321.6 L1095.8 323.3 L1096.3 323.8 L1096.8 325.3 L1097.4 328.2 L1097.9 327.4 L1098.5 326.0 L1099.0 325.4 L1099.5 325.8 L1100.0 326.4 L1100.6 326.8 L1101.1 327.6 L1101.6 328.1 L1102.2 328.6 L1102.7 330.1 L1103.2 329.6 L1103.8 331.5 L1104.3 332.6 L1104.9 332.7 L1105.5 338.0 L1106.0 341.6 L1106.5 343.6 L1107.0 343.9 L1107.5 345.6 L1108.0 346.9 L1108.6 349.4 L1109.1 350.0 L1109.8 351.2 L1110.5 353.0 L1111.2 350.0 L1111.8 347.5 L1112.4 344.4 L1113.1 342.7 L1113.8 343.2 L1114.4 344.9 L1114.9 345.6 L1115.5 347.0 L1116.0 348.9 L1116.5 349.4 L1117.1 350.9 L1117.6 348.1 L1118.1 343.9 L1118.6 343.1 L1119.2 341.7 L1119.7 340.7 L1120.2 343.0 L1120.8 344.0 L1121.3 345.9 L1121.8 346.0 L1122.4 348.3 L1122.9 348.9 L1123.4 320.5 L1124.3 333.1 L1124.9 332.1 L1125.6 331.6 L1126.1 332.3 L1126.6 330.5 L1127.1 330.8 L1127.6 329.8 L1128.2 329.0 L1128.7 328.9 L1129.2 328.9 L1129.8 326.9 L1130.3 326.7 L1130.8 325.5 L1131.4 325.3 L1131.9 324.4 L1132.4 323.6 L1133.0 323.3 L1133.5 323.1 L1134.0 323.7 L1134.5 323.1 L1135.1 322.2 L1135.6 322.7 L1136.2 321.9 L1136.7 319.7 L1137.2 318.9 L1137.8 318.9 L1138.3 318.6 L1138.8 319.1 L1139.3 317.9 L1139.8 317.7 L1140.4 317.2 L1140.9 317.2 L1141.4 319.0 L1142.0 320.0 L1142.5 320.7 L1143.0 323.0 L1143.6 325.6 L1144.1 323.2 L1144.6 321.2 L1145.1 320.2 L1145.7 320.2 L1146.2 320.6 L1146.7 318.6 L1147.3 318.2 L1147.8 317.2 L1148.3 316.7 L1148.9 314.5 L1149.4 313.7 L1149.9 313.8 L1150.5 314.5 L1151.0 315.0 L1151.5 314.9 L1152.1 313.8 L1152.6 312.6 L1153.1 311.3 L1153.7 311.1 L1154.2 312.0 L1154.7 311.4 L1155.2 309.6 L1155.7 308.7 L1156.2 307.2 L1156.8 307.4 L1157.4 307.8 L1157.9 306.7 L1158.6 289.8 L1159.3 293.0 L1160.0 294.6 L1160.5 295.9 L1161.1 297.7 L1161.6 300.1 L1162.1 299.4 L1162.7 298.8 L1163.2 297.1 L1163.7 295.8 L1164.2 294.6 L1164.7 292.7 L1165.2 290.1 L1165.8 287.1 L1166.4 287.1 L1167.1 285.6 L1167.8 289.5 L1168.5 291.8 L1169.0 292.0 L1169.5 292.4 L1170.0 293.6 L1170.5 296.3 L1171.1 298.8 L1171.6 300.4 L1172.1 298.3 L1172.7 297.5 L1173.2 296.0 L1173.7 296.9 L1174.3 297.9 L1174.8 299.7 L1175.3 301.6 L1175.9 304.9 L1176.4 308.1 L1176.9 308.4 L1177.5 307.3 L1178.0 306.8 L1178.5 304.3 L1179.0 302.0 L1179.5 302.5 L1180.1 304.5 L1180.6 304.5 L1181.1 304.8 L1181.7 304.9 L1182.2 306.5 L1182.8 308.9 L1183.3 310.6 L1183.6 324.3 L1184.2 323.4 L1184.8 322.5 L1185.4 320.1 L1186.0 316.3 L1186.5 313.8 L1187.0 315.9 L1187.5 318.2 L1188.0 318.6 L1188.6 320.8 L1189.1 321.5 L1189.6 323.6 L1190.2 325.4 L1190.7 328.5 L1191.2 325.9 L1191.8 324.9 L1192.3 322.2 L1192.8 321.2 L1193.4 321.5 L1193.9 320.2 L1194.4 322.1 L1195.0 322.4 L1195.5 323.2 L1196.0 322.6 L1196.6 322.6 L1197.1 322.5 L1197.6 321.4 L1198.1 318.2 L1198.6 317.0 L1199.1 315.7 L1199.7 316.2 L1200.2 314.1 L1200.7 314.5 L1201.3 315.4 L1201.8 317.0 L1202.3 318.5 L1202.9 319.2 L1203.4 319.4 L1203.9 320.5 L1204.5 320.7 L1205.0 320.2 L1205.5 326.1 L1206.1 333.3 L1206.6 335.5 L1207.1 336.9 L1207.6 336.8 L1208.2 335.6 L1208.7 335.0 L1209.2 333.2 L1209.8 331.7 L1210.3 326.8 L1210.9 323.0 L1211.4 319.1 L1211.9 309.4 L1212.4 312.4 L1212.9 317.4 L1213.4 317.6 L1214.0 319.0 L1214.5 320.5 L1215.0 321.9 L1215.6 322.2 L1216.1 323.1 L1216.6 324.4 L1217.2 325.3 L1217.7 326.9 L1218.2 327.6 L1218.8 329.7 L1219.3 327.7 L1219.9 323.3 L1220.4 321.2 L1220.9 321.5 L1221.4 321.1 L1221.9 320.0 L1222.4 319.1 L1223.0 318.8 L1223.5 319.5 L1224.0 319.8 L1224.6 321.8 L1225.1 322.7 L1225.6 323.2 L1226.2 324.1 L1226.7 325.9 L1227.2 322.1 L1227.8 317.9 L1228.3 318.0 L1228.9 316.7 L1229.4 316.3 L1230.1 320.0 L1230.7 323.5 L1231.2 326.0 L1231.7 326.3 L1232.3 327.2 L1232.8 326.5 L1233.3 327.9 L1233.8 330.0 L1234.3 329.4 L1234.9 328.0 L1235.4 325.6 L1236.0 326.9 L1236.5 328.8 L1237.0 323.6 L1237.5 318.6 L1238.0 318.8 L1238.6 321.0 L1239.1 321.7 L1239.7 319.9 L1240.2 317.4 L1240.7 353.4 L1241.6 335.2 L1242.2 334.4 L1242.8 334.1 L1243.3 333.3 L1243.9 330.6 L1244.4 329.8 L1244.9 330.8 L1245.5 330.2 L1246.0 330.7 L1246.5 328.4 L1247.1 327.6 L1247.6 325.6 L1248.1 328.3 L1248.7 329.9 L1249.2 331.4 L1249.7 329.2 L1250.3 327.5 L1250.8 326.5 L1251.3 326.4 L1251.9 326.4 L1252.4 325.7 L1252.9 324.5 L1253.5 324.2 L1254.0 323.7 L1254.5 322.1 L1255.1 320.5 L1255.6 318.5 L1256.1 318.4 L1256.6 317.3 L1257.1 318.0 L1257.7 321.9 L1258.2 326.8 L1258.7 326.2 L1259.3 326.5 L1259.8 325.5 L1260.3 321.3 L1260.8 317.6 L1261.3 317.2 L1261.9 318.5 L1262.4 317.9 L1263.0 321.4 L1263.5 325.6 L1264.0 327.0 L1264.6 326.4 L1265.1 326.6 L1265.6 329.5 L1266.1 331.1 L1266.6 333.0 L1267.2 332.4 L1267.7 334.2 L1268.2 333.7 L1268.8 332.3 L1269.3 335.3 L1269.9 336.2 L1270.4 339.4 L1270.9 338.4 L1271.5 338.2 L1272.0 338.7 L1272.5 339.6 L1273.1 341.3 L1273.6 341.5 L1274.1 352.5 L1274.6 352.8 L1275.2 353.2 L1275.7 354.5 L1276.2 362.0 L1276.7 360.5 L1277.2 360.8 L1277.8 360.3 L1278.3 359.4 L1278.8 359.0 L1279.4 358.3 L1279.9 358.4 L1280.5 360.3 L1281.0 362.9 L1281.5 362.7 L1282.1 361.5 L1282.6 361.3 L1283.1 371.2 L1283.6 372.3 L1284.2 372.1 L1284.7 373.3 L1285.2 375.0 L1285.7 377.8 L1286.2 376.6 L1286.8 374.7 L1287.3 374.1 L1287.8 373.2 L1288.4 372.4 L1288.9 371.4 L1289.4 370.2 L1290.0 370.0 L1290.5 370.3 L1291.0 370.4 L1291.6 370.5 L1292.1 371.2 L1292.6 372.8 L1293.2 372.4 L1293.7 373.4 L1294.2 369.4 L1294.7 365.9 L1295.2 367.7 L1295.8 369.0 L1296.3 369.1 L1296.8 368.3 L1297.4 368.9 L1297.9 367.9 L1298.5 350.7 L1299.0 350.4 L1299.5 348.2 L1300.0 347.1 L1300.5 347.8 L1301.1 349.7 L1301.6 350.1 L1302.1 350.2 L1302.7 350.6 L1303.2 352.2 L1303.8 347.7 L1304.3 343.0 L1304.8 343.4 L1305.4 345.7 L1305.9 346.8 L1306.4 347.6 L1307.0 347.7 L1307.5 348.8 L1308.0 348.0 L1308.5 347.6 L1309.0 345.5 L1309.5 343.7 L1310.1 342.1 L1310.6 339.8 L1311.2 334.0 L1311.7 334.6 L1312.3 337.1 L1312.8 337.7 L1313.3 337.1 L1313.8 336.0 L1314.4 337.3 L1314.9 336.2 L1315.4 337.3 L1316.0 337.1 L1316.5 337.7 L1317.0 337.2 L1317.5 337.6 L1318.0 336.3 L1318.6 336.4 L1319.1 336.5 L1319.6 338.3 L1320.2 338.6 L1320.7 340.4 L1321.2 340.4 L1321.8 340.6 L1322.3 340.5 L1322.8 338.3 L1323.3 337.2 L1323.8 337.8 L1324.4 338.1 L1324.9 336.6 L1325.4 337.5 L1326.0 337.9 L1326.5 337.1 L1327.1 347.1 L1327.6 346.9 L1328.1 348.5 L1328.6 349.0 L1329.1 350.7 L1329.7 351.5 L1330.2 353.2 L1330.7 354.5 L1331.3 355.2 L1331.8 356.5 L1332.3 356.9 L1332.8 357.4 L1333.4 357.2 L1333.9 358.7 L1334.4 359.3 L1335.0 359.5 L1335.5 360.9 L1336.0 362.0 L1336.5 362.2 L1337.1 362.5 L1337.6 363.9 L1338.1 361.8 L1338.7 360.4 L1339.2 359.6 L1339.7 358.5 L1340.3 358.8 L1340.8 358.6 L1341.3 358.8 L1341.8 360.9 L1342.4 361.0 L1342.9 363.0 L1343.4 361.9 L1344.0 360.0 L1344.5 358.3 L1345.0 357.2 L1345.6 355.5 L1346.1 354.6 L1346.6 351.2 L1347.2 350.0 L1347.7 347.3 L1348.2 349.8 L1348.8 352.4 L1349.3 354.1 L1349.8 356.2 L1350.4 356.4 L1350.9 357.8 L1351.4 357.5 L1352.0 355.5 L1352.5 355.6 L1353.0 357.2 L1353.6 356.8 L1354.1 358.5 L1354.6 362.2 L1355.2 364.3 L1355.7 368.4 L1356.5 362.4 L1357.0 361.1 L1357.6 358.1 L1358.1 358.0 L1358.7 358.4 L1359.2 357.1 L1359.7 355.8 L1360.2 355.2 L1360.7 354.1 L1361.2 351.6 L1361.8 350.1 L1362.3 348.7 L1362.8 349.0 L1363.4 347.8 L1363.9 347.1 L1364.4 347.9 L1365.0 350.8 L1365.5 351.7 L1366.0 350.0 L1366.6 348.0 L1367.1 345.6 L1367.6 347.1 L1368.2 347.2 L1368.7 347.9 L1369.2 346.4 L1369.8 342.9 L1370.3 341.9 L1370.8 340.3 L1371.3 338.5 L1371.8 337.5 L1372.3 334.7 L1372.9 333.9 L1373.4 331.0 L1374.0 332.2 L1374.5 334.3 L1375.0 335.6 L1375.5 337.1 L1376.0 337.2 L1376.6 335.9 L1377.1 339.9 L1377.6 342.3 L1378.2 339.6 L1378.7 336.5 L1379.2 335.3 L1379.8 334.2 L1380.3 332.8 L1380.8 331.3 L1381.4 330.4 L1381.9 329.6 L1382.4 329.5 L1382.9 328.2 L1383.4 327.4 L1384.0 327.1 L1384.5 324.8 L1385.0 324.5" fill="none" stroke="#d8d8d8" stroke-width="2.3" stroke-linejoin="round"/>
<rect x="802" y="322" width="508.6" height="2" fill="#000"/>
<rect x="341" y="689" width="2" height="137" fill="#d9d9d9"/>
<rect x="885" y="785" width="384" height="2" fill="#000"/>
</g>
<g id="labels">
<text x="203.86" y="61.80" font-size="35" font-weight="bold" textLength="145.02" lengthAdjust="spacingAndGlyphs" fill="#000000">Dividend</text>
<text x="358.73" y="61.80" font-size="35" font-weight="bold" textLength="78.99" lengthAdjust="spacingAndGlyphs" fill="#000000">Yield</text>
<text x="156.36" y="111.70" font-size="28.7" font-weight="normal" textLength="53.21" lengthAdjust="spacingAndGlyphs" fill="#767676" stroke="#767676" stroke-width="0.12">Well</text>
<text x="217.47" y="111.70" font-size="28.7" font-weight="normal" textLength="76.70" lengthAdjust="spacingAndGlyphs" fill="#767676" stroke="#767676" stroke-width="0.12">above</text>
<text x="300.89" y="111.70" font-size="28.7" font-weight="normal" textLength="30.32" lengthAdjust="spacingAndGlyphs" fill="#767676" stroke="#767676" stroke-width="0.12">its</text>
<text x="337.84" y="111.70" font-size="28.7" font-weight="normal" textLength="115.25" lengthAdjust="spacingAndGlyphs" fill="#767676" stroke="#767676" stroke-width="0.12">historical</text>
<text x="460.16" y="111.70" font-size="28.7" font-weight="normal" textLength="70.12" lengthAdjust="spacingAndGlyphs" fill="#767676" stroke="#767676" stroke-width="0.12">norm</text>
<text x="908.25" y="61.80" font-size="35" font-weight="bold" textLength="137.47" lengthAdjust="spacingAndGlyphs" fill="#000000">Forward</text>
<text x="1053.95" y="61.80" font-size="35" font-weight="bold" textLength="52.98" lengthAdjust="spacingAndGlyphs" fill="#000000">P/E</text>
<text x="1116.28" y="61.80" font-size="35" font-weight="bold" textLength="84.73" lengthAdjust="spacingAndGlyphs" fill="#000000">Ratio</text>
<text x="928.01" y="111.70" font-size="28.7" font-weight="normal" textLength="59.73" lengthAdjust="spacingAndGlyphs" fill="#767676" stroke="#767676" stroke-width="0.12">Near</text>
<text x="995.92" y="111.70" font-size="28.7" font-weight="normal" textLength="30.60" lengthAdjust="spacingAndGlyphs" fill="#767676" stroke="#767676" stroke-width="0.12">its</text>
<text x="1033.38" y="111.70" font-size="28.7" font-weight="normal" textLength="115.58" lengthAdjust="spacingAndGlyphs" fill="#767676" stroke="#767676" stroke-width="0.12">historical</text>
<text x="1156.08" y="111.70" font-size="28.7" font-weight="normal" textLength="70.45" lengthAdjust="spacingAndGlyphs" fill="#767676" stroke="#767676" stroke-width="0.12">norm</text>
<text x="22.82" y="180.00" font-size="25" font-weight="normal" textLength="32.96" lengthAdjust="spacingAndGlyphs" fill="#8c8c8c" stroke="#8c8c8c" stroke-width="0.12">6%</text>
<text x="22.54" y="281.80" font-size="25" font-weight="normal" textLength="33.19" lengthAdjust="spacingAndGlyphs" fill="#8c8c8c" stroke="#8c8c8c" stroke-width="0.12">4%</text>
<text x="22.57" y="381.80" font-size="25" font-weight="normal" textLength="33.26" lengthAdjust="spacingAndGlyphs" fill="#8c8c8c" stroke="#8c8c8c" stroke-width="0.12">2%</text>
<text x="22.86" y="483.80" font-size="25" font-weight="normal" textLength="32.95" lengthAdjust="spacingAndGlyphs" fill="#8c8c8c" stroke="#8c8c8c" stroke-width="0.12">0%</text>
<text x="756.28" y="180.00" font-size="25" font-weight="normal" textLength="27.58" lengthAdjust="spacingAndGlyphs" fill="#8c8c8c" stroke="#8c8c8c" stroke-width="0.12">30</text>
<text x="756.65" y="281.80" font-size="25" font-weight="normal" textLength="27.08" lengthAdjust="spacingAndGlyphs" fill="#8c8c8c" stroke="#8c8c8c" stroke-width="0.12">20</text>
<text x="756.79" y="381.80" font-size="25" font-weight="normal" textLength="27.08" lengthAdjust="spacingAndGlyphs" fill="#8c8c8c" stroke="#8c8c8c" stroke-width="0.12">10</text>
<text x="770.52" y="483.80" font-size="25" font-weight="normal" textLength="13.32" lengthAdjust="spacingAndGlyphs" fill="#8c8c8c" stroke="#8c8c8c" stroke-width="0.12">0</text>
<text x="93.84" y="315.70" font-size="30" font-weight="bold" textLength="83.53" lengthAdjust="spacingAndGlyphs" fill="#fff" stroke="#fff" stroke-width="3" stroke-linejoin="round">5-Year</text><text x="93.84" y="315.70" font-size="30" font-weight="bold" textLength="83.53" lengthAdjust="spacingAndGlyphs" fill="#000000" stroke="#fff" stroke-width="0.22" paint-order="fill stroke">5-Year</text>
<text x="183.60" y="315.70" font-size="30" font-weight="bold" textLength="116.45" lengthAdjust="spacingAndGlyphs" fill="#fff" stroke="#fff" stroke-width="3" stroke-linejoin="round">Average:</text><text x="183.60" y="315.70" font-size="30" font-weight="bold" textLength="116.45" lengthAdjust="spacingAndGlyphs" fill="#000000" stroke="#fff" stroke-width="0.22" paint-order="fill stroke">Average:</text>
<text x="305.30" y="315.70" font-size="30" font-weight="bold" textLength="77.43" lengthAdjust="spacingAndGlyphs" fill="#fff" stroke="#fff" stroke-width="3" stroke-linejoin="round">2.91%</text><text x="305.30" y="315.70" font-size="30" font-weight="bold" textLength="77.43" lengthAdjust="spacingAndGlyphs" fill="#000000" stroke="#fff" stroke-width="0.22" paint-order="fill stroke">2.91%</text>
<text x="549.63" y="285.80" font-size="30" font-weight="bold" textLength="77.65" lengthAdjust="spacingAndGlyphs" fill="#fff" stroke="#fff" stroke-width="3" stroke-linejoin="round">3.94%</text><text x="549.63" y="285.80" font-size="30" font-weight="bold" textLength="77.65" lengthAdjust="spacingAndGlyphs" fill="#000000" stroke="#fff" stroke-width="0.22" paint-order="fill stroke">3.94%</text>
<text x="821.48" y="308.00" font-size="30" font-weight="bold" textLength="83.86" lengthAdjust="spacingAndGlyphs" fill="#fff" stroke="#fff" stroke-width="3" stroke-linejoin="round">5-Year</text><text x="821.48" y="308.00" font-size="30" font-weight="bold" textLength="83.86" lengthAdjust="spacingAndGlyphs" fill="#000000" stroke="#fff" stroke-width="0.22" paint-order="fill stroke">5-Year</text>
<text x="911.51" y="308.00" font-size="30" font-weight="bold" textLength="116.72" lengthAdjust="spacingAndGlyphs" fill="#fff" stroke="#fff" stroke-width="3" stroke-linejoin="round">Average:</text><text x="911.51" y="308.00" font-size="30" font-weight="bold" textLength="116.72" lengthAdjust="spacingAndGlyphs" fill="#000000" stroke="#fff" stroke-width="0.22" paint-order="fill stroke">Average:</text>
<text x="1033.65" y="308.00" font-size="30" font-weight="bold" textLength="53.69" lengthAdjust="spacingAndGlyphs" fill="#fff" stroke="#fff" stroke-width="3" stroke-linejoin="round">15.4</text><text x="1033.65" y="308.00" font-size="30" font-weight="bold" textLength="53.69" lengthAdjust="spacingAndGlyphs" fill="#000000" stroke="#fff" stroke-width="0.22" paint-order="fill stroke">15.4</text>
<text x="1308.00" y="332.00" font-size="30" font-weight="bold" textLength="54.66" lengthAdjust="spacingAndGlyphs" fill="#fff" stroke="#fff" stroke-width="3" stroke-linejoin="round">15.2</text><text x="1308.00" y="332.00" font-size="30" font-weight="bold" textLength="54.66" lengthAdjust="spacingAndGlyphs" fill="#000000" stroke="#fff" stroke-width="0.22" paint-order="fill stroke">15.2</text>
<text x="108.87" y="643.50" font-size="35" font-weight="bold" textLength="104.84" lengthAdjust="spacingAndGlyphs" fill="#000000">Sector</text>
<text x="222.13" y="643.50" font-size="35" font-weight="bold" textLength="53.18" lengthAdjust="spacingAndGlyphs" fill="#000000">P/E</text>
<text x="283.54" y="643.50" font-size="35" font-weight="bold" textLength="85.17" lengthAdjust="spacingAndGlyphs" fill="#000000">Ratio</text>
<text x="378.54" y="643.50" font-size="35" font-weight="bold" textLength="198.35" lengthAdjust="spacingAndGlyphs" fill="#000000">Comparison</text>
<text x="134.67" y="733.90" font-size="28.5" font-weight="normal" textLength="80.84" lengthAdjust="spacingAndGlyphs" fill="#111111" stroke="#111111" stroke-width="0.3">Target</text>
<text x="141.68" y="797.00" font-size="34.8" font-weight="normal" textLength="67.67" lengthAdjust="spacingAndGlyphs" fill="#111111" stroke="#111111" stroke-width="0.3">15.2</text>
<text x="394.13" y="733.90" font-size="28.5" font-weight="normal" textLength="129.06" lengthAdjust="spacingAndGlyphs" fill="#111111" stroke="#111111" stroke-width="0.3">Consumer</text>
<text x="532.45" y="733.90" font-size="28.5" font-weight="normal" textLength="92.29" lengthAdjust="spacingAndGlyphs" fill="#111111" stroke="#111111" stroke-width="0.3">Staples</text>
<text x="476.00" y="797.00" font-size="34.8" font-weight="normal" textLength="67.44" lengthAdjust="spacingAndGlyphs" fill="#111111" stroke="#111111" stroke-width="0.3">18.8</text>
<text x="906.21" y="643.50" font-size="35" font-weight="bold" textLength="141.03" lengthAdjust="spacingAndGlyphs" fill="#000000">52-Week</text>
<text x="1056.79" y="643.50" font-size="35" font-weight="bold" textLength="79.83" lengthAdjust="spacingAndGlyphs" fill="#000000">Price</text>
<text x="1146.26" y="643.50" font-size="35" font-weight="bold" textLength="100.84" lengthAdjust="spacingAndGlyphs" fill="#000000">Range</text>
<text x="1095.48" y="713.90" font-size="28.6" font-weight="normal" textLength="95.68" lengthAdjust="spacingAndGlyphs" fill="#111111" stroke="#111111" stroke-width="0.3">$115.81</text>
<text x="1048.02" y="751.60" font-size="28.6" font-weight="normal" textLength="93.40" lengthAdjust="spacingAndGlyphs" fill="#111111" stroke="#111111" stroke-width="0.3">(Today,</text>
<text x="1148.22" y="751.60" font-size="28.6" font-weight="normal" textLength="45.24" lengthAdjust="spacingAndGlyphs" fill="#111111" stroke="#111111" stroke-width="0.3">Feb</text>
<text x="1200.87" y="751.60" font-size="28.6" font-weight="normal" textLength="40.61" lengthAdjust="spacingAndGlyphs" fill="#111111" stroke="#111111" stroke-width="0.3">18)</text>
<text x="778.44" y="792.50" font-size="28.6" font-weight="normal" textLength="83.74" lengthAdjust="spacingAndGlyphs" fill="#999999" stroke="#999999" stroke-width="0.12">$83.68</text>
<text x="1291.95" y="792.50" font-size="28.6" font-weight="normal" textLength="99.74" lengthAdjust="spacingAndGlyphs" fill="#999999" stroke="#999999" stroke-width="0.12">$130.75</text>
<text x="151.11" y="523.80" font-size="25" font-weight="normal" textLength="55.30" lengthAdjust="spacingAndGlyphs" fill="#8c8c8c" stroke="#8c8c8c" stroke-width="0.12">2022</text>
<text x="264.64" y="523.80" font-size="25" font-weight="normal" textLength="55.85" lengthAdjust="spacingAndGlyphs" fill="#8c8c8c" stroke="#8c8c8c" stroke-width="0.12">2023</text>
<text x="379.32" y="523.80" font-size="25" font-weight="normal" textLength="54.98" lengthAdjust="spacingAndGlyphs" fill="#8c8c8c" stroke="#8c8c8c" stroke-width="0.12">2024</text>
<text x="493.38" y="523.80" font-size="25" font-weight="normal" textLength="54.62" lengthAdjust="spacingAndGlyphs" fill="#8c8c8c" stroke="#8c8c8c" stroke-width="0.12">2025</text>
<text x="601.10" y="523.80" font-size="25" font-weight="normal" textLength="55.32" lengthAdjust="spacingAndGlyphs" fill="#8c8c8c" stroke="#8c8c8c" stroke-width="0.12">2026</text>
<text x="879.71" y="523.80" font-size="25" font-weight="normal" textLength="55.58" lengthAdjust="spacingAndGlyphs" fill="#8c8c8c" stroke="#8c8c8c" stroke-width="0.12">2022</text>
<text x="995.35" y="523.80" font-size="25" font-weight="normal" textLength="55.48" lengthAdjust="spacingAndGlyphs" fill="#8c8c8c" stroke="#8c8c8c" stroke-width="0.12">2023</text>
<text x="1110.19" y="523.80" font-size="25" font-weight="normal" textLength="55.56" lengthAdjust="spacingAndGlyphs" fill="#8c8c8c" stroke="#8c8c8c" stroke-width="0.12">2024</text>
<text x="1225.96" y="523.80" font-size="25" font-weight="normal" textLength="55.22" lengthAdjust="spacingAndGlyphs" fill="#8c8c8c" stroke="#8c8c8c" stroke-width="0.12">2025</text>
<text x="1334.59" y="523.80" font-size="25" font-weight="normal" textLength="55.58" lengthAdjust="spacingAndGlyphs" fill="#8c8c8c" stroke="#8c8c8c" stroke-width="0.12">2026</text>
<g transform="translate(468.3 48.1)"><circle cx="0" cy="0" r="14" fill="#cccccc"/><path d="M-4.6 -4.1 C-4.0 -6.4 -2.4 -7.4 0 -7.4 C2.7 -7.4 4.6 -6.0 4.6 -3.9 C4.6 -0.9 -0.1 -0.9 -0.1 2.1 L-0.1 3.4" fill="none" stroke="#fff" stroke-width="4.3" stroke-linejoin="round"/><circle cx="-0.1" cy="7.6" r="2.6" fill="#fff"/></g><g transform="translate(1231.3 48.1)"><circle cx="0" cy="0" r="14" fill="#cccccc"/><path d="M-4.6 -4.1 C-4.0 -6.4 -2.4 -7.4 0 -7.4 C2.7 -7.4 4.6 -6.0 4.6 -3.9 C4.6 -0.9 -0.1 -0.9 -0.1 2.1 L-0.1 3.4" fill="none" stroke="#fff" stroke-width="4.3" stroke-linejoin="round"/><circle cx="-0.1" cy="7.6" r="2.6" fill="#fff"/></g>
</g>
<g id="dots">
<rect x="1364" y="322" width="20" height="2" fill="#000"/><rect x="1341.8" y="322" width="4" height="1.6" fill="#000" fill-opacity="0.55"/>
<circle cx="651" cy="278.2" r="12" fill="#567b25"/>
<circle cx="1385" cy="324.5" r="12" fill="#a5bd5b"/>
<circle cx="1147" cy="785" r="12" fill="#000"/>
</g>
</svg>
</body>
</html>
